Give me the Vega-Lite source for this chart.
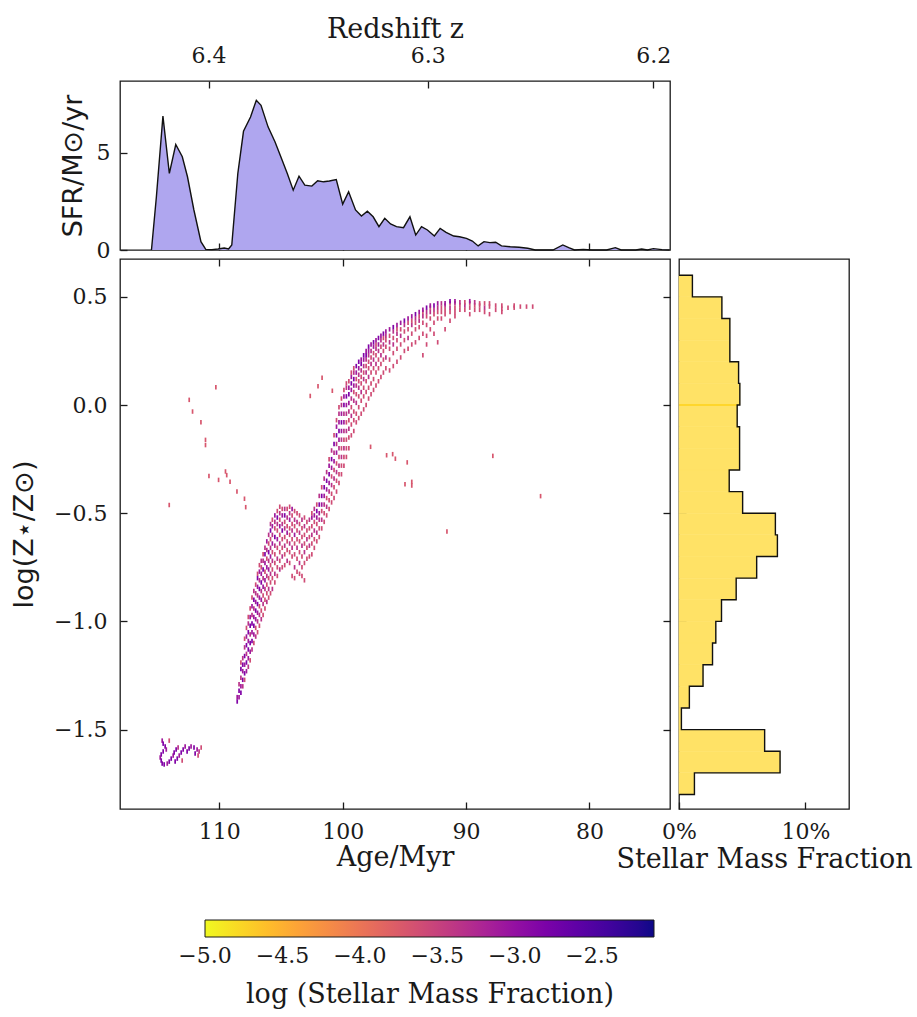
{
"$schema":"https://vega.github.io/schema/vega-lite/v6.json",
"background":"white",
"padding":{"left":9,"top":14,"right":5,"bottom":5},
"config":{
 "font":"DejaVu Serif",
 "view":{"stroke":"#1a1a1a","strokeWidth":1.3},
 "axis":{"grid":false,"domain":false,"tickSize":-7,"tickWidth":1.3,"tickColor":"#1a1a1a","labelFlush":false,"labelFont":"DejaVu Serif","labelFontSize":22,"labelColor":"#1a1a1a","titleFont":"DejaVu Serif","titleFontSize":27,"titleFontWeight":"normal","titleColor":"#1a1a1a"}
},
"columns":2,
"bounds":"flush",
"spacing":9,
"datasets":{
"sfr":[
{"a":115.5,"s":0},{"a":115.1,"s":2.74},{"a":114.57,"s":6.89},{"a":114.05,"s":3.94},{"a":113.53,"s":5.43},{"a":113.0,"s":4.8},{"a":112.58,"s":3.77},{"a":112.06,"s":2.06},{"a":111.49,"s":0.43},{"a":111.1,"s":0.03},{"a":110.6,"s":0.02},{"a":110.1,"s":0.05},{"a":109.6,"s":0.1},{"a":109.25,"s":0.05},{"a":108.99,"s":0.26},{"a":108.5,"s":3.94},{"a":108.04,"s":6.11},{"a":107.47,"s":6.85},{"a":107.0,"s":7.71},{"a":106.62,"s":7.45},{"a":106.05,"s":6.34},{"a":105.49,"s":5.57},{"a":104.96,"s":4.71},{"a":104.49,"s":3.94},{"a":104.01,"s":3.08},{"a":103.54,"s":3.8},{"a":103.07,"s":3.34},{"a":102.5,"s":3.29},{"a":102.03,"s":3.56},{"a":101.55,"s":3.51},{"a":101.08,"s":3.55},{"a":100.52,"s":3.63},{"a":100.0,"s":2.36},{"a":99.52,"s":3.0},{"a":98.96,"s":2.06},{"a":98.48,"s":1.75},{"a":98.0,"s":2.0},{"a":97.53,"s":1.71},{"a":97.06,"s":1.2},{"a":96.59,"s":1.63},{"a":96.12,"s":1.34},{"a":95.64,"s":1.2},{"a":95.07,"s":1.15},{"a":94.55,"s":1.71},{"a":94.08,"s":0.77},{"a":93.61,"s":1.2},{"a":93.13,"s":1.03},{"a":92.57,"s":0.72},{"a":92.1,"s":1.11},{"a":91.62,"s":0.91},{"a":91.0,"s":0.72},{"a":90.53,"s":0.68},{"a":89.97,"s":0.6},{"a":89.49,"s":0.46},{"a":89.02,"s":0.21},{"a":88.55,"s":0.43},{"a":88.07,"s":0.38},{"a":87.6,"s":0.4},{"a":87.13,"s":0.21},{"a":86.42,"s":0.17},{"a":85.7,"s":0.14},{"a":85.0,"s":0.09},{"a":84.39,"s":0},{"a":83.81,"s":0},{"a":82.96,"s":0},{"a":82.16,"s":0.26},{"a":81.68,"s":0.12},{"a":81.21,"s":0},{"a":80.5,"s":0.03},{"a":79.79,"s":0},{"a":78.61,"s":0},{"a":77.9,"s":0.12},{"a":77.43,"s":0},{"a":76.25,"s":0},{"a":75.77,"s":0.05},{"a":75.3,"s":0},{"a":74.82,"s":0.07},{"a":74.12,"s":0.02},{"a":73.5,"s":0}
],
"hist":[
{"lo":-1.8,"hi":-1.7,"f":0.0122},{"lo":-1.7,"hi":-1.6,"f":0.0799},{"lo":-1.6,"hi":-1.5,"f":0.0677},{"lo":-1.5,"hi":-1.4,"f":0.0019},{"lo":-1.4,"hi":-1.3,"f":0.0082},{"lo":-1.3,"hi":-1.2,"f":0.019},{"lo":-1.2,"hi":-1.1,"f":0.0265},{"lo":-1.1,"hi":-1.0,"f":0.0291},{"lo":-1.0,"hi":-0.9,"f":0.0336},{"lo":-0.9,"hi":-0.8,"f":0.0452},{"lo":-0.8,"hi":-0.7,"f":0.0614},{"lo":-0.7,"hi":-0.6,"f":0.0778},{"lo":-0.6,"hi":-0.5,"f":0.0762},{"lo":-0.5,"hi":-0.4,"f":0.0503},{"lo":-0.4,"hi":-0.3,"f":0.0397},{"lo":-0.3,"hi":-0.2,"f":0.0479},{"lo":-0.2,"hi":-0.1,"f":0.0479},{"lo":-0.1,"hi":0.0,"f":0.046},{"lo":0.0,"hi":0.1,"f":0.0481},{"lo":0.1,"hi":0.2,"f":0.0471},{"lo":0.2,"hi":0.3,"f":0.0402},{"lo":0.3,"hi":0.4,"f":0.0402},{"lo":0.4,"hi":0.5,"f":0.0339},{"lo":0.5,"hi":0.6,"f":0.0106}
],
"edge":[
{"k":0,"f":0,"e":-1.8},{"k":1,"f":0.0122,"e":-1.8},{"k":2,"f":0.0799,"e":-1.7},{"k":3,"f":0.0677,"e":-1.6},{"k":4,"f":0.0019,"e":-1.5},{"k":5,"f":0.0082,"e":-1.4},{"k":6,"f":0.019,"e":-1.3},{"k":7,"f":0.0265,"e":-1.2},{"k":8,"f":0.0291,"e":-1.1},{"k":9,"f":0.0336,"e":-1.0},{"k":10,"f":0.0452,"e":-0.9},{"k":11,"f":0.0614,"e":-0.8},{"k":12,"f":0.0778,"e":-0.7},{"k":13,"f":0.0762,"e":-0.6},{"k":14,"f":0.0503,"e":-0.5},{"k":15,"f":0.0397,"e":-0.4},{"k":16,"f":0.0479,"e":-0.3},{"k":17,"f":0.0479,"e":-0.2},{"k":18,"f":0.046,"e":-0.1},{"k":19,"f":0.0481,"e":0.0},{"k":20,"f":0.0471,"e":0.1},{"k":21,"f":0.0402,"e":0.2},{"k":22,"f":0.0402,"e":0.3},{"k":23,"f":0.0339,"e":0.4},{"k":24,"f":0.0106,"e":0.5},{"k":25,"f":0,"e":0.6}
],
"seam":[{"z":0,"f0":0,"f1":0.0462}],
"cells":[
{"a":108.55,"z":-1.37,"m":-2.85},{"a":108.55,"z":-1.35,"m":-3.1},
{"a":108.4,"z":-1.35,"m":-3.1},{"a":108.4,"z":-1.32,"m":-2.85},{"a":108.4,"z":-1.29,"m":-3.35},
{"a":108.25,"z":-1.33,"m":-2.85},{"a":108.25,"z":-1.30,"m":-3.1},{"a":108.25,"z":-1.26,"m":-3.35},{"a":108.25,"z":-1.22,"m":-2.85},{"a":108.25,"z":-1.19,"m":-3.6},
{"a":108.1,"z":-1.30,"m":-3.35},{"a":108.1,"z":-1.27,"m":-2.85},{"a":108.1,"z":-1.23,"m":-3.1},{"a":108.1,"z":-1.20,"m":-2.85},{"a":108.1,"z":-1.17,"m":-3.35},
{"a":107.95,"z":-1.27,"m":-3.6},{"a":107.95,"z":-1.24,"m":-2.85},{"a":107.95,"z":-1.20,"m":-3.1},{"a":107.95,"z":-1.16,"m":-2.85},{"a":107.95,"z":-1.12,"m":-3.35},{"a":107.95,"z":-1.08,"m":-3.6},
{"a":107.8,"z":-1.23,"m":-3.1},{"a":107.8,"z":-1.19,"m":-2.85},{"a":107.8,"z":-1.15,"m":-3.35},{"a":107.8,"z":-1.11,"m":-2.85},{"a":107.8,"z":-1.07,"m":-3.1},{"a":107.8,"z":-1.03,"m":-3.6},
{"a":107.65,"z":-1.21,"m":-3.35},{"a":107.65,"z":-1.17,"m":-3.1},{"a":107.65,"z":-1.13,"m":-2.85},{"a":107.65,"z":-1.09,"m":-3.1},{"a":107.65,"z":-1.05,"m":-2.85},{"a":107.65,"z":-1.01,"m":-3.35},{"a":107.65,"z":-0.98,"m":-3.6},
{"a":107.5,"z":-1.18,"m":-3.6},{"a":107.5,"z":-1.14,"m":-3.1},{"a":107.5,"z":-1.10,"m":-2.85},{"a":107.5,"z":-1.06,"m":-3.35},{"a":107.5,"z":-1.02,"m":-2.85},{"a":107.5,"z":-0.98,"m":-3.1},{"a":107.5,"z":-0.94,"m":-3.6},
{"a":107.35,"z":-1.13,"m":-3.35},{"a":107.35,"z":-1.09,"m":-2.85},{"a":107.35,"z":-1.05,"m":-3.1},{"a":107.35,"z":-1.01,"m":-2.85},{"a":107.35,"z":-0.97,"m":-3.35},{"a":107.35,"z":-0.93,"m":-3.1},{"a":107.35,"z":-0.89,"m":-3.6},
{"a":107.2,"z":-1.10,"m":-3.6},{"a":107.2,"z":-1.06,"m":-3.1},{"a":107.2,"z":-1.02,"m":-2.85},{"a":107.2,"z":-0.98,"m":-3.1},{"a":107.2,"z":-0.94,"m":-3.35},{"a":107.2,"z":-0.90,"m":-2.85},{"a":107.2,"z":-0.86,"m":-3.35},
{"a":107.05,"z":-1.07,"m":-3.35},{"a":107.05,"z":-1.03,"m":-3.6},{"a":107.05,"z":-0.99,"m":-3.1},{"a":107.05,"z":-0.95,"m":-2.85},{"a":107.05,"z":-0.91,"m":-3.1},{"a":107.05,"z":-0.87,"m":-3.35},{"a":107.05,"z":-0.83,"m":-3.6},
{"a":106.9,"z":-1.05,"m":-3.6},{"a":106.9,"z":-1.00,"m":-3.35},{"a":106.9,"z":-0.96,"m":-3.1},{"a":106.9,"z":-0.92,"m":-2.85},{"a":106.9,"z":-0.88,"m":-3.35},{"a":106.9,"z":-0.84,"m":-3.1},{"a":106.9,"z":-0.80,"m":-2.85},{"a":106.9,"z":-0.78,"m":-3.6},
{"a":106.75,"z":-1.02,"m":-3.6},{"a":106.75,"z":-0.97,"m":-3.35},{"a":106.75,"z":-0.93,"m":-3.6},{"a":106.75,"z":-0.89,"m":-3.1},{"a":106.75,"z":-0.85,"m":-2.85},{"a":106.75,"z":-0.81,"m":-3.35},{"a":106.75,"z":-0.77,"m":-3.1},{"a":106.75,"z":-0.74,"m":-3.6},
{"a":106.6,"z":-0.99,"m":-3.35},{"a":106.6,"z":-0.95,"m":-3.6},{"a":106.6,"z":-0.90,"m":-3.1},{"a":106.6,"z":-0.86,"m":-3.35},{"a":106.6,"z":-0.82,"m":-2.85},{"a":106.6,"z":-0.78,"m":-3.1},{"a":106.6,"z":-0.75,"m":-3.6},{"a":106.6,"z":-0.72,"m":-3.35},
{"a":106.45,"z":-0.97,"m":-3.6},{"a":106.45,"z":-0.92,"m":-3.35},{"a":106.45,"z":-0.88,"m":-3.6},{"a":106.45,"z":-0.84,"m":-3.1},{"a":106.45,"z":-0.80,"m":-3.35},{"a":106.45,"z":-0.76,"m":-2.85},{"a":106.45,"z":-0.72,"m":-3.35},{"a":106.45,"z":-0.69,"m":-3.6},
{"a":106.3,"z":-0.94,"m":-3.6},{"a":106.3,"z":-0.90,"m":-3.6},{"a":106.3,"z":-0.85,"m":-3.35},{"a":106.3,"z":-0.81,"m":-3.1},{"a":106.3,"z":-0.77,"m":-3.6},{"a":106.3,"z":-0.73,"m":-3.1},{"a":106.3,"z":-0.69,"m":-2.85},{"a":106.3,"z":-0.66,"m":-3.35},
{"a":106.15,"z":-0.91,"m":-3.35},{"a":106.15,"z":-0.87,"m":-3.6},{"a":106.15,"z":-0.83,"m":-3.6},{"a":106.15,"z":-0.79,"m":-3.35},{"a":106.15,"z":-0.75,"m":-3.1},{"a":106.15,"z":-0.71,"m":-3.6},{"a":106.15,"z":-0.67,"m":-3.35},{"a":106.15,"z":-0.63,"m":-3.1},
{"a":106.0,"z":-0.89,"m":-3.6},{"a":106.0,"z":-0.85,"m":-3.35},{"a":106.0,"z":-0.80,"m":-3.6},{"a":106.0,"z":-0.76,"m":-3.1},{"a":106.0,"z":-0.72,"m":-3.35},{"a":106.0,"z":-0.68,"m":-2.85},{"a":106.0,"z":-0.64,"m":-3.6},{"a":106.0,"z":-0.60,"m":-3.35},
{"a":105.85,"z":-0.87,"m":-3.6},{"a":105.85,"z":-0.82,"m":-3.6},{"a":105.85,"z":-0.78,"m":-3.35},{"a":105.85,"z":-0.74,"m":-3.6},{"a":105.85,"z":-0.70,"m":-3.1},{"a":105.85,"z":-0.66,"m":-3.35},{"a":105.85,"z":-0.62,"m":-3.6},{"a":105.85,"z":-0.58,"m":-2.85},{"a":105.85,"z":-0.55,"m":-3.35},
{"a":105.7,"z":-0.85,"m":-3.35},{"a":105.7,"z":-0.80,"m":-3.6},{"a":105.7,"z":-0.76,"m":-3.6},{"a":105.7,"z":-0.72,"m":-3.35},{"a":105.7,"z":-0.68,"m":-3.6},{"a":105.7,"z":-0.64,"m":-3.1},{"a":105.7,"z":-0.60,"m":-3.35},{"a":105.7,"z":-0.56,"m":-3.1},{"a":105.7,"z":-0.53,"m":-3.6},
{"a":105.5,"z":-0.82,"m":-3.6},{"a":105.5,"z":-0.78,"m":-3.35},{"a":105.5,"z":-0.73,"m":-3.6},{"a":105.5,"z":-0.69,"m":-3.6},{"a":105.5,"z":-0.65,"m":-3.35},{"a":105.5,"z":-0.61,"m":-2.85},{"a":105.5,"z":-0.57,"m":-3.6},{"a":105.5,"z":-0.54,"m":-3.35},{"a":105.5,"z":-0.51,"m":-3.1},
{"a":105.3,"z":-0.79,"m":-3.6},{"a":105.3,"z":-0.75,"m":-3.6},{"a":105.3,"z":-0.71,"m":-3.35},{"a":105.3,"z":-0.66,"m":-3.6},{"a":105.3,"z":-0.62,"m":-3.1},{"a":105.3,"z":-0.58,"m":-3.6},{"a":105.3,"z":-0.55,"m":-3.35},{"a":105.3,"z":-0.52,"m":-2.85},{"a":105.3,"z":-0.49,"m":-3.6},
{"a":105.1,"z":-0.76,"m":-3.35},{"a":105.1,"z":-0.72,"m":-3.6},{"a":105.1,"z":-0.68,"m":-3.6},{"a":105.1,"z":-0.64,"m":-3.35},{"a":105.1,"z":-0.60,"m":-3.6},{"a":105.1,"z":-0.56,"m":-3.1},{"a":105.1,"z":-0.53,"m":-3.6},{"a":105.1,"z":-0.50,"m":-3.35},{"a":105.1,"z":-0.47,"m":-3.6},
{"a":104.9,"z":-0.75,"m":-3.6},{"a":104.9,"z":-0.70,"m":-3.35},{"a":104.9,"z":-0.66,"m":-3.6},{"a":104.9,"z":-0.62,"m":-3.6},{"a":104.9,"z":-0.58,"m":-2.85},{"a":104.9,"z":-0.55,"m":-3.35},{"a":104.9,"z":-0.51,"m":-3.1},{"a":104.9,"z":-0.48,"m":-3.6},
{"a":104.7,"z":-0.74,"m":-3.6},{"a":104.7,"z":-0.69,"m":-3.6},{"a":104.7,"z":-0.65,"m":-3.35},{"a":104.7,"z":-0.61,"m":-3.6},{"a":104.7,"z":-0.57,"m":-3.35},{"a":104.7,"z":-0.54,"m":-3.6},{"a":104.7,"z":-0.51,"m":-2.85},{"a":104.7,"z":-0.48,"m":-3.35},
{"a":104.5,"z":-0.72,"m":-3.35},{"a":104.5,"z":-0.67,"m":-3.6},{"a":104.5,"z":-0.63,"m":-3.6},{"a":104.5,"z":-0.59,"m":-3.1},{"a":104.5,"z":-0.56,"m":-3.6},{"a":104.5,"z":-0.52,"m":-3.35},{"a":104.5,"z":-0.48,"m":-3.6},
{"a":104.3,"z":-0.73,"m":-3.6},{"a":104.3,"z":-0.68,"m":-3.6},{"a":104.3,"z":-0.64,"m":-3.35},{"a":104.3,"z":-0.60,"m":-3.6},{"a":104.3,"z":-0.57,"m":-3.6},{"a":104.3,"z":-0.53,"m":-3.1},{"a":104.3,"z":-0.50,"m":-3.35},{"a":104.3,"z":-0.47,"m":-3.6},
{"a":104.1,"z":-0.79,"m":-3.6},{"a":104.1,"z":-0.70,"m":-3.6},{"a":104.1,"z":-0.66,"m":-3.35},{"a":104.1,"z":-0.62,"m":-3.6},{"a":104.1,"z":-0.58,"m":-3.35},{"a":104.1,"z":-0.55,"m":-3.6},{"a":104.1,"z":-0.51,"m":-3.6},{"a":104.1,"z":-0.48,"m":-3.1},
{"a":103.9,"z":-0.80,"m":-3.6},{"a":103.9,"z":-0.75,"m":-3.35},{"a":103.9,"z":-0.69,"m":-3.6},{"a":103.9,"z":-0.64,"m":-3.6},{"a":103.9,"z":-0.60,"m":-3.1},{"a":103.9,"z":-0.56,"m":-3.6},{"a":103.9,"z":-0.53,"m":-3.35},{"a":103.9,"z":-0.49,"m":-3.6},
{"a":103.7,"z":-0.77,"m":-3.6},{"a":103.7,"z":-0.71,"m":-3.6},{"a":103.7,"z":-0.66,"m":-3.35},{"a":103.7,"z":-0.62,"m":-3.6},{"a":103.7,"z":-0.58,"m":-3.6},{"a":103.7,"z":-0.54,"m":-3.35},{"a":103.7,"z":-0.50,"m":-3.6},
{"a":103.5,"z":-0.78,"m":-3.6},{"a":103.5,"z":-0.73,"m":-3.35},{"a":103.5,"z":-0.68,"m":-3.6},{"a":103.5,"z":-0.63,"m":-3.6},{"a":103.5,"z":-0.59,"m":-3.35},{"a":103.5,"z":-0.55,"m":-3.6},{"a":103.5,"z":-0.51,"m":-3.6},
{"a":103.3,"z":-0.79,"m":-3.6},{"a":103.3,"z":-0.75,"m":-3.6},{"a":103.3,"z":-0.70,"m":-3.6},{"a":103.3,"z":-0.65,"m":-3.35},{"a":103.3,"z":-0.61,"m":-3.6},{"a":103.3,"z":-0.57,"m":-3.6},{"a":103.3,"z":-0.53,"m":-3.35},
{"a":103.1,"z":-0.81,"m":-3.6},{"a":103.1,"z":-0.73,"m":-3.6},{"a":103.1,"z":-0.68,"m":-3.35},{"a":103.1,"z":-0.64,"m":-3.6},{"a":103.1,"z":-0.60,"m":-3.6},{"a":103.1,"z":-0.56,"m":-3.35},{"a":103.1,"z":-0.52,"m":-3.6},
{"a":102.9,"z":-0.71,"m":-3.6},{"a":102.9,"z":-0.66,"m":-3.6},{"a":102.9,"z":-0.62,"m":-3.35},{"a":102.9,"z":-0.58,"m":-3.6},{"a":102.9,"z":-0.54,"m":-3.6},
{"a":102.7,"z":-0.70,"m":-3.6},{"a":102.7,"z":-0.65,"m":-3.35},{"a":102.7,"z":-0.61,"m":-3.6},{"a":102.7,"z":-0.57,"m":-3.6},{"a":102.7,"z":-0.53,"m":-3.35},
{"a":102.5,"z":-0.69,"m":-3.6},{"a":102.5,"z":-0.64,"m":-3.6},{"a":102.5,"z":-0.60,"m":-3.35},{"a":102.5,"z":-0.56,"m":-3.6},{"a":102.5,"z":-0.52,"m":-3.1},{"a":102.5,"z":-0.50,"m":-3.6},
{"a":102.3,"z":-0.66,"m":-3.6},{"a":102.3,"z":-0.62,"m":-3.6},{"a":102.3,"z":-0.58,"m":-3.35},{"a":102.3,"z":-0.54,"m":-3.6},{"a":102.3,"z":-0.51,"m":-3.1},{"a":102.3,"z":-0.48,"m":-3.35},
{"a":102.1,"z":-0.63,"m":-3.6},{"a":102.1,"z":-0.59,"m":-3.35},{"a":102.1,"z":-0.55,"m":-3.6},{"a":102.1,"z":-0.52,"m":-3.1},{"a":102.1,"z":-0.49,"m":-2.85},{"a":102.1,"z":-0.46,"m":-3.6},
{"a":101.9,"z":-0.61,"m":-3.6},{"a":101.9,"z":-0.57,"m":-3.6},{"a":101.9,"z":-0.53,"m":-3.35},{"a":101.9,"z":-0.50,"m":-3.1},{"a":101.9,"z":-0.46,"m":-2.85},{"a":101.9,"z":-0.42,"m":-3.35},
{"a":101.7,"z":-0.57,"m":-3.6},{"a":101.7,"z":-0.53,"m":-3.35},{"a":101.7,"z":-0.49,"m":-3.6},{"a":101.7,"z":-0.46,"m":-3.1},{"a":101.7,"z":-0.42,"m":-2.85},{"a":101.7,"z":-0.38,"m":-3.6},
{"a":101.5,"z":-0.54,"m":-3.6},{"a":101.5,"z":-0.50,"m":-3.6},{"a":101.5,"z":-0.46,"m":-3.35},{"a":101.5,"z":-0.42,"m":-3.1},{"a":101.5,"z":-0.38,"m":-2.85},{"a":101.5,"z":-0.34,"m":-3.35},
{"a":101.3,"z":-0.51,"m":-3.6},{"a":101.3,"z":-0.47,"m":-3.35},{"a":101.3,"z":-0.43,"m":-3.6},{"a":101.3,"z":-0.39,"m":-3.1},{"a":101.3,"z":-0.35,"m":-2.85},{"a":101.3,"z":-0.31,"m":-3.35},
{"a":101.1,"z":-0.48,"m":-3.6},{"a":101.1,"z":-0.44,"m":-3.6},{"a":101.1,"z":-0.40,"m":-3.35},{"a":101.1,"z":-0.36,"m":-3.1},{"a":101.1,"z":-0.32,"m":-2.85},{"a":101.1,"z":-0.28,"m":-3.1},{"a":101.1,"z":-0.25,"m":-3.6},
{"a":100.9,"z":-0.45,"m":-3.6},{"a":100.9,"z":-0.41,"m":-3.6},{"a":100.9,"z":-0.37,"m":-3.35},{"a":100.9,"z":-0.33,"m":-3.6},{"a":100.9,"z":-0.29,"m":-3.1},{"a":100.9,"z":-0.25,"m":-2.85},{"a":100.9,"z":-0.21,"m":-3.35},
{"a":100.7,"z":-0.43,"m":-3.6},{"a":100.7,"z":-0.38,"m":-3.6},{"a":100.7,"z":-0.34,"m":-3.35},{"a":100.7,"z":-0.30,"m":-3.6},{"a":100.7,"z":-0.26,"m":-3.1},{"a":100.7,"z":-0.22,"m":-3.35},{"a":100.7,"z":-0.18,"m":-2.85},{"a":100.7,"z":-0.14,"m":-3.6},
{"a":100.5,"z":-0.40,"m":-3.6},{"a":100.5,"z":-0.35,"m":-3.6},{"a":100.5,"z":-0.31,"m":-3.35},{"a":100.5,"z":-0.27,"m":-3.6},{"a":100.5,"z":-0.22,"m":-3.1},{"a":100.5,"z":-0.18,"m":-3.35},{"a":100.5,"z":-0.14,"m":-2.85},{"a":100.5,"z":-0.10,"m":-3.1},{"a":100.5,"z":-0.07,"m":-3.6},
{"a":100.3,"z":-0.36,"m":-3.6},{"a":100.3,"z":-0.32,"m":-3.6},{"a":100.3,"z":-0.28,"m":-3.35},{"a":100.3,"z":-0.24,"m":-3.6},{"a":100.3,"z":-0.20,"m":-3.35},{"a":100.3,"z":-0.16,"m":-3.1},{"a":100.3,"z":-0.12,"m":-2.85},{"a":100.3,"z":-0.08,"m":-3.1},{"a":100.3,"z":-0.04,"m":-3.35},{"a":100.3,"z":-0.01,"m":-3.6},
{"a":100.1,"z":-0.32,"m":-3.6},{"a":100.1,"z":-0.28,"m":-3.6},{"a":100.1,"z":-0.24,"m":-3.35},{"a":100.1,"z":-0.20,"m":-3.6},{"a":100.1,"z":-0.16,"m":-3.35},{"a":100.1,"z":-0.12,"m":-3.1},{"a":100.1,"z":-0.08,"m":-2.85},{"a":100.1,"z":-0.04,"m":-3.1},{"a":100.1,"z":0.0,"m":-3.35},{"a":100.1,"z":0.03,"m":-3.6},
{"a":99.9,"z":-0.28,"m":-3.6},{"a":99.9,"z":-0.24,"m":-3.6},{"a":99.9,"z":-0.20,"m":-3.35},{"a":99.9,"z":-0.16,"m":-3.6},{"a":99.9,"z":-0.12,"m":-3.35},{"a":99.9,"z":-0.08,"m":-3.1},{"a":99.9,"z":-0.04,"m":-3.35},{"a":99.9,"z":0.0,"m":-2.85},{"a":99.9,"z":0.04,"m":-3.1},{"a":99.9,"z":0.07,"m":-3.6},
{"a":99.7,"z":-0.24,"m":-3.6},{"a":99.7,"z":-0.20,"m":-3.6},{"a":99.7,"z":-0.16,"m":-3.6},{"a":99.7,"z":-0.12,"m":-3.35},{"a":99.7,"z":-0.08,"m":-3.6},{"a":99.7,"z":-0.04,"m":-3.35},{"a":99.7,"z":0.0,"m":-3.1},{"a":99.7,"z":0.04,"m":-2.85},{"a":99.7,"z":0.08,"m":-3.35},{"a":99.7,"z":0.10,"m":-3.6},
{"a":99.5,"z":-0.20,"m":-3.6},{"a":99.5,"z":-0.15,"m":-3.6},{"a":99.5,"z":-0.11,"m":-3.35},{"a":99.5,"z":-0.07,"m":-3.6},{"a":99.5,"z":-0.03,"m":-3.35},{"a":99.5,"z":0.01,"m":-3.1},{"a":99.5,"z":0.05,"m":-2.85},{"a":99.5,"z":0.08,"m":-3.1},{"a":99.5,"z":0.11,"m":-3.6},
{"a":99.3,"z":-0.14,"m":-3.6},{"a":99.3,"z":-0.09,"m":-3.6},{"a":99.3,"z":-0.05,"m":-3.35},{"a":99.3,"z":-0.01,"m":-3.6},{"a":99.3,"z":0.03,"m":-3.35},{"a":99.3,"z":0.07,"m":-3.1},{"a":99.3,"z":0.10,"m":-2.85},{"a":99.3,"z":0.13,"m":-3.1},{"a":99.3,"z":0.15,"m":-3.6},
{"a":99.1,"z":-0.12,"m":-3.6},{"a":99.1,"z":-0.07,"m":-3.6},{"a":99.1,"z":-0.03,"m":-3.6},{"a":99.1,"z":0.02,"m":-3.35},{"a":99.1,"z":0.06,"m":-3.6},{"a":99.1,"z":0.09,"m":-3.1},{"a":99.1,"z":0.12,"m":-2.85},{"a":99.1,"z":0.15,"m":-3.35},{"a":99.1,"z":0.17,"m":-3.6},
{"a":98.9,"z":-0.08,"m":-3.6},{"a":98.9,"z":-0.04,"m":-3.6},{"a":98.9,"z":0.01,"m":-3.35},{"a":98.9,"z":0.05,"m":-3.6},{"a":98.9,"z":0.09,"m":-3.35},{"a":98.9,"z":0.12,"m":-3.6},{"a":98.9,"z":0.15,"m":-3.1},{"a":98.9,"z":0.18,"m":-2.85},
{"a":98.7,"z":-0.06,"m":-3.6},{"a":98.7,"z":-0.01,"m":-3.6},{"a":98.7,"z":0.04,"m":-3.6},{"a":98.7,"z":0.08,"m":-3.35},{"a":98.7,"z":0.11,"m":-3.6},{"a":98.7,"z":0.14,"m":-3.35},{"a":98.7,"z":0.17,"m":-3.1},{"a":98.7,"z":0.20,"m":-2.85},
{"a":98.5,"z":-0.04,"m":-3.6},{"a":98.5,"z":0.02,"m":-3.6},{"a":98.5,"z":0.06,"m":-3.35},{"a":98.5,"z":0.10,"m":-3.6},{"a":98.5,"z":0.13,"m":-3.6},{"a":98.5,"z":0.16,"m":-3.35},{"a":98.5,"z":0.19,"m":-2.85},{"a":98.5,"z":0.21,"m":-3.1},
{"a":98.3,"z":-0.02,"m":-3.6},{"a":98.3,"z":0.04,"m":-3.6},{"a":98.3,"z":0.08,"m":-3.6},{"a":98.3,"z":0.12,"m":-3.35},{"a":98.3,"z":0.15,"m":-3.6},{"a":98.3,"z":0.18,"m":-3.35},{"a":98.3,"z":0.21,"m":-3.1},{"a":98.3,"z":0.23,"m":-2.85},
{"a":98.1,"z":0.0,"m":-3.6},{"a":98.1,"z":0.06,"m":-3.6},{"a":98.1,"z":0.11,"m":-3.6},{"a":98.1,"z":0.15,"m":-3.35},{"a":98.1,"z":0.18,"m":-3.6},{"a":98.1,"z":0.21,"m":-3.35},{"a":98.1,"z":0.23,"m":-2.85},{"a":98.1,"z":0.25,"m":-3.1},
{"a":97.9,"z":0.03,"m":-3.6},{"a":97.9,"z":0.08,"m":-3.6},{"a":97.9,"z":0.13,"m":-3.35},{"a":97.9,"z":0.17,"m":-3.6},{"a":97.9,"z":0.20,"m":-3.6},{"a":97.9,"z":0.23,"m":-3.35},{"a":97.9,"z":0.25,"m":-3.1},{"a":97.9,"z":0.27,"m":-2.85},
{"a":97.7,"z":0.05,"m":-3.6},{"a":97.7,"z":0.10,"m":-3.6},{"a":97.7,"z":0.15,"m":-3.6},{"a":97.7,"z":0.19,"m":-3.35},{"a":97.7,"z":0.22,"m":-3.6},{"a":97.7,"z":0.25,"m":-3.35},{"a":97.7,"z":0.28,"m":-3.1},
{"a":97.5,"z":0.07,"m":-3.6},{"a":97.5,"z":0.12,"m":-3.6},{"a":97.5,"z":0.17,"m":-3.6},{"a":97.5,"z":0.21,"m":-3.35},{"a":97.5,"z":0.24,"m":-3.6},{"a":97.5,"z":0.27,"m":-3.1},{"a":97.5,"z":0.29,"m":-2.85},
{"a":97.3,"z":0.09,"m":-3.6},{"a":97.3,"z":0.15,"m":-3.6},{"a":97.3,"z":0.19,"m":-3.35},{"a":97.3,"z":0.23,"m":-3.6},{"a":97.3,"z":0.26,"m":-3.35},{"a":97.3,"z":0.28,"m":-3.6},{"a":97.3,"z":0.30,"m":-3.1},
{"a":97.1,"z":0.11,"m":-3.6},{"a":97.1,"z":0.17,"m":-3.6},{"a":97.1,"z":0.21,"m":-3.6},{"a":97.1,"z":0.25,"m":-3.35},{"a":97.1,"z":0.28,"m":-3.1},{"a":97.1,"z":0.31,"m":-2.85},
{"a":96.9,"z":0.13,"m":-3.6},{"a":96.9,"z":0.19,"m":-3.6},{"a":96.9,"z":0.23,"m":-3.35},{"a":96.9,"z":0.27,"m":-3.6},{"a":96.9,"z":0.30,"m":-3.35},{"a":96.9,"z":0.32,"m":-3.1},
{"a":96.7,"z":0.15,"m":-3.6},{"a":96.7,"z":0.21,"m":-3.6},{"a":96.7,"z":0.25,"m":-3.6},{"a":96.7,"z":0.28,"m":-3.35},{"a":96.7,"z":0.31,"m":-3.6},{"a":96.7,"z":0.33,"m":-2.85},
{"a":96.5,"z":0.17,"m":-3.6},{"a":96.5,"z":0.22,"m":-3.35},{"a":96.5,"z":0.27,"m":-3.6},{"a":96.5,"z":0.30,"m":-3.6},{"a":96.5,"z":0.32,"m":-3.35},{"a":96.5,"z":0.34,"m":-3.1},
{"a":96.2,"z":0.16,"m":-3.6},{"a":96.2,"z":0.21,"m":-3.6},{"a":96.2,"z":0.26,"m":-3.6},{"a":96.2,"z":0.29,"m":-3.35},{"a":96.2,"z":0.32,"m":-3.6},{"a":96.2,"z":0.35,"m":-3.1},
{"a":95.9,"z":0.18,"m":-3.6},{"a":95.9,"z":0.24,"m":-3.6},{"a":95.9,"z":0.28,"m":-3.35},{"a":95.9,"z":0.31,"m":-3.6},{"a":95.9,"z":0.34,"m":-3.35},{"a":95.9,"z":0.36,"m":-2.85},
{"a":95.6,"z":0.20,"m":-3.6},{"a":95.6,"z":0.26,"m":-3.6},{"a":95.6,"z":0.30,"m":-3.6},{"a":95.6,"z":0.33,"m":-3.35},{"a":95.6,"z":0.35,"m":-3.6},{"a":95.6,"z":0.37,"m":-3.1},
{"a":95.3,"z":0.22,"m":-3.6},{"a":95.3,"z":0.28,"m":-3.6},{"a":95.3,"z":0.32,"m":-3.35},{"a":95.3,"z":0.35,"m":-3.6},{"a":95.3,"z":0.38,"m":-3.1},
{"a":95.0,"z":0.25,"m":-3.6},{"a":95.0,"z":0.30,"m":-3.6},{"a":95.0,"z":0.34,"m":-3.6},{"a":95.0,"z":0.37,"m":-3.35},{"a":95.0,"z":0.39,"m":-2.85},
{"a":94.7,"z":0.26,"m":-3.6},{"a":94.7,"z":0.31,"m":-3.35},{"a":94.7,"z":0.35,"m":-3.6},{"a":94.7,"z":0.38,"m":-3.6},{"a":94.7,"z":0.40,"m":-3.1},
{"a":94.4,"z":0.28,"m":-3.6},{"a":94.4,"z":0.33,"m":-3.6},{"a":94.4,"z":0.37,"m":-3.35},{"a":94.4,"z":0.39,"m":-3.6},{"a":94.4,"z":0.41,"m":-3.1},
{"a":94.1,"z":0.29,"m":-3.6},{"a":94.1,"z":0.35,"m":-3.6},{"a":94.1,"z":0.38,"m":-3.6},{"a":94.1,"z":0.40,"m":-3.35},{"a":94.1,"z":0.42,"m":-2.85},
{"a":93.8,"z":0.31,"m":-3.6},{"a":93.8,"z":0.36,"m":-3.6},{"a":93.8,"z":0.39,"m":-3.35},{"a":93.8,"z":0.41,"m":-3.6},{"a":93.8,"z":0.43,"m":-3.1},
{"a":93.5,"z":0.23,"m":-3.6},{"a":93.5,"z":0.33,"m":-3.6},{"a":93.5,"z":0.38,"m":-3.6},{"a":93.5,"z":0.41,"m":-3.35},{"a":93.5,"z":0.43,"m":-3.6},{"a":93.5,"z":0.44,"m":-3.1},
{"a":93.2,"z":0.28,"m":-3.6},{"a":93.2,"z":0.32,"m":-3.6},{"a":93.2,"z":0.37,"m":-3.6},{"a":93.2,"z":0.41,"m":-3.6},{"a":93.2,"z":0.43,"m":-3.35},{"a":93.2,"z":0.45,"m":-2.85},
{"a":92.9,"z":0.35,"m":-3.6},{"a":92.9,"z":0.40,"m":-3.6},{"a":92.9,"z":0.43,"m":-3.35},{"a":92.9,"z":0.45,"m":-3.6},{"a":92.9,"z":0.46,"m":-3.1},
{"a":92.6,"z":0.33,"m":-3.6},{"a":92.6,"z":0.38,"m":-3.6},{"a":92.6,"z":0.42,"m":-3.6},{"a":92.6,"z":0.44,"m":-3.35},{"a":92.6,"z":0.46,"m":-2.85},
{"a":92.3,"z":0.29,"m":-3.6},{"a":92.3,"z":0.40,"m":-3.6},{"a":92.3,"z":0.43,"m":-3.6},{"a":92.3,"z":0.45,"m":-3.35},{"a":92.3,"z":0.47,"m":-3.1},
{"a":92.0,"z":0.40,"m":-3.6},{"a":92.0,"z":0.43,"m":-3.6},{"a":92.0,"z":0.45,"m":-3.6},{"a":92.0,"z":0.47,"m":-3.35},
{"a":91.7,"z":0.35,"m":-3.6},{"a":91.7,"z":0.42,"m":-3.6},{"a":91.7,"z":0.44,"m":-3.6},{"a":91.7,"z":0.46,"m":-3.35},{"a":91.7,"z":0.47,"m":-3.1},
{"a":91.3,"z":0.39,"m":-3.6},{"a":91.3,"z":0.43,"m":-3.6},{"a":91.3,"z":0.45,"m":-3.35},{"a":91.3,"z":0.47,"m":-3.6},{"a":91.3,"z":0.48,"m":-2.85},
{"a":90.9,"z":0.41,"m":-3.6},{"a":90.9,"z":0.43,"m":-3.6},{"a":90.9,"z":0.45,"m":-3.6},{"a":90.9,"z":0.47,"m":-3.35},{"a":90.9,"z":0.48,"m":-3.1},
{"a":90.5,"z":0.44,"m":-3.6},{"a":90.5,"z":0.46,"m":-3.6},{"a":90.5,"z":0.475,"m":-3.35},
{"a":90.1,"z":0.44,"m":-3.6},{"a":90.1,"z":0.46,"m":-3.35},{"a":90.1,"z":0.475,"m":-3.6},
{"a":89.7,"z":0.42,"m":-3.6},{"a":89.7,"z":0.45,"m":-3.6},{"a":89.7,"z":0.47,"m":-3.6},{"a":89.7,"z":0.48,"m":-3.1},
{"a":89.3,"z":0.44,"m":-3.6},{"a":89.3,"z":0.46,"m":-3.6},{"a":89.3,"z":0.475,"m":-3.35},
{"a":88.9,"z":0.44,"m":-3.6},{"a":88.9,"z":0.46,"m":-3.6},{"a":88.9,"z":0.47,"m":-3.6},
{"a":88.5,"z":0.43,"m":-3.6},{"a":88.5,"z":0.45,"m":-3.35},{"a":88.5,"z":0.47,"m":-3.6},
{"a":88.1,"z":0.42,"m":-3.6},{"a":88.1,"z":0.455,"m":-3.6},{"a":88.1,"z":0.47,"m":-3.6},
{"a":87.6,"z":0.44,"m":-3.6},{"a":87.6,"z":0.46,"m":-3.6},
{"a":87.1,"z":0.43,"m":-3.6},{"a":87.1,"z":0.445,"m":-3.6},{"a":87.1,"z":0.46,"m":-3.6},
{"a":86.6,"z":0.45,"m":-3.6},
{"a":86.1,"z":0.45,"m":-3.6},{"a":86.1,"z":0.46,"m":-3.6},
{"a":85.6,"z":0.455,"m":-3.6},{"a":85.1,"z":0.455,"m":-3.6},{"a":84.6,"z":0.455,"m":-3.6},
{"a":114.63,"z":-1.551,"m":-3.1},{"a":114.55,"z":-1.565,"m":-2.85},{"a":114.39,"z":-1.578,"m":-2.85},{"a":114.3,"z":-1.592,"m":-3.1},{"a":114.55,"z":-1.601,"m":-2.85},{"a":114.71,"z":-1.615,"m":-2.85},{"a":114.79,"z":-1.629,"m":-3.1},{"a":114.71,"z":-1.643,"m":-2.85},{"a":114.63,"z":-1.657,"m":-2.85},{"a":114.47,"z":-1.661,"m":-2.85},{"a":114.22,"z":-1.657,"m":-3.1},{"a":114.06,"z":-1.648,"m":-2.85},{"a":113.9,"z":-1.634,"m":-2.85},{"a":113.74,"z":-1.62,"m":-3.1},{"a":113.66,"z":-1.606,"m":-2.85},{"a":113.5,"z":-1.592,"m":-2.85},{"a":113.34,"z":-1.583,"m":-3.35},{"a":113.58,"z":-1.648,"m":-2.85},{"a":113.41,"z":-1.634,"m":-2.85},{"a":113.25,"z":-1.62,"m":-3.1},{"a":113.09,"z":-1.606,"m":-2.85},{"a":112.93,"z":-1.592,"m":-2.85},{"a":112.77,"z":-1.578,"m":-3.1},{"a":113.01,"z":-1.643,"m":-3.6},{"a":112.61,"z":-1.601,"m":-2.85},{"a":112.45,"z":-1.587,"m":-2.85},{"a":112.29,"z":-1.578,"m":-3.1},{"a":112.05,"z":-1.583,"m":-2.85},{"a":111.8,"z":-1.592,"m":-3.1},{"a":111.64,"z":-1.601,"m":-3.35},{"a":111.96,"z":-1.61,"m":-2.85},{"a":111.72,"z":-1.62,"m":-3.6},{"a":111.47,"z":-1.583,"m":-3.6},{"a":114.06,"z":-1.551,"m":-3.6},
{"a":114.06,"z":-0.462,"m":-3.7},{"a":112.44,"z":0.024,"m":-3.7},{"a":112.17,"z":-0.03,"m":-3.7},{"a":111.49,"z":-0.08,"m":-3.7},{"a":111.12,"z":-0.161,"m":-3.7},{"a":111.12,"z":-0.185,"m":-3.7},{"a":110.84,"z":-0.328,"m":-3.7},{"a":110.28,"z":0.082,"m":-3.7},{"a":110.06,"z":-0.346,"m":-3.7},{"a":109.5,"z":-0.307,"m":-3.7},{"a":109.4,"z":-0.324,"m":-3.7},{"a":109.13,"z":-0.354,"m":-3.7},{"a":108.57,"z":-0.4,"m":-3.7},{"a":107.96,"z":-0.433,"m":-3.7},{"a":107.86,"z":-0.472,"m":-3.7},{"a":101.67,"z":0.126,"m":-3.7},{"a":102.0,"z":0.087,"m":-3.7},{"a":102.63,"z":0.042,"m":-3.7},{"a":100.84,"z":0.066,"m":-3.7},{"a":97.74,"z":-0.193,"m":-3.7},{"a":96.44,"z":-0.232,"m":-3.7},{"a":95.95,"z":-0.227,"m":-3.7},{"a":95.73,"z":-0.248,"m":-3.7},{"a":94.77,"z":-0.265,"m":-3.7},{"a":94.95,"z":-0.366,"m":-3.7},{"a":94.4,"z":-0.355,"m":-3.7},{"a":94.4,"z":-0.372,"m":-3.7},{"a":87.83,"z":-0.235,"m":-3.7},{"a":83.96,"z":-0.421,"m":-3.7},{"a":91.55,"z":-0.585,"m":-3.7}
]
},
"concat":[
{
 "width":550,"height":169,
 "data":{"name":"sfr"},
 "layer":[
  {"mark":{"type":"area","color":"#afa6ef","opacity":1,"line":{"color":"#111111","strokeWidth":1.4}},
   "encoding":{
    "x":{"field":"a","type":"quantitative","scale":{"domain":[73.47,118.05],"reverse":true,"nice":false,"zero":false},"axis":{"orient":"bottom","values":[110,100,90,80],"labels":false,"title":null}},
    "y":{"field":"s","type":"quantitative","scale":{"domain":[0,8.7],"nice":false},"axis":{"values":[0,5],"labelPadding":17,"title":"SFR/M⊙/yr","titleFont":"DejaVu Sans","titlePadding":9}}
   }},
  {"mark":{"type":"point","opacity":0},
   "encoding":{
    "x":{"field":"a","type":"quantitative","axis":{"orient":"top","values":[110.87,93.11,74.82],"labelExpr":"datum.value > 100 ? '6.4' : (datum.value > 80 ? '6.3' : '6.2')","labelPadding":21,"title":"Redshift z","titlePadding":1}}
   }}
 ],
 "resolve":{"axis":{"x":"independent"}}
},
{
 "width":170,"height":169,
 "data":{"values":[{"v":0}]},
 "mark":{"type":"point","opacity":0},
 "encoding":{},
 "view":{"stroke":null}
},
{
 "width":550,"height":550,
 "data":{"name":"cells"},
 "layer":[
  {"mark":{"type":"tick","orient":"vertical","thickness":1.7,"size":4.5,"opacity":1},
   "encoding":{
    "x":{"field":"a","type":"quantitative","scale":{"domain":[73.47,118.05],"reverse":true,"nice":false,"zero":false},"axis":{"values":[110,100,90,80],"labelPadding":19,"title":"Age/Myr","titlePadding":2}},
    "y":{"field":"z","type":"quantitative","scale":{"domain":[-1.867,0.675],"nice":false,"zero":false},"axis":{"values":[0.5,0,-0.5,-1,-1.5],"format":".1f","labelPadding":20,"title":"log(Z⋆/Z⊙)","titleFont":"DejaVu Sans","titlePadding":15}},
    "color":{"field":"m","type":"quantitative","scale":{"scheme":"plasma","reverse":true,"domain":[-5.0002,-2.1]},
     "legend":{"orient":"none","legendX":85,"legendY":839,"direction":"horizontal","gradientLength":449,"gradientThickness":17,"gradientStrokeColor":"#1a1a1a","gradientStrokeWidth":1,"values":[-5,-4.5,-4,-3.5,-3,-2.5],"format":".1f","labelOverlap":false,"labelAlign":"center","labelFont":"DejaVu Serif","labelFontSize":22,"labelColor":"#1a1a1a","labelOffset":9,"title":"log (Stellar Mass Fraction)","titleLimit":700,"titleOrient":"bottom","titleAnchor":"middle","titleFont":"DejaVu Serif","titleFontSize":27,"titleFontWeight":"normal","titleColor":"#1a1a1a","titlePadding":15}}
   }},
  {"mark":{"type":"point","opacity":0},
   "encoding":{
    "x":{"field":"a","type":"quantitative","axis":{"orient":"top","values":[110,100,90,80],"labels":false,"title":null}},
    "y":{"field":"z","type":"quantitative","axis":{"orient":"right","values":[0.5,0,-0.5,-1,-1.5],"labels":false,"title":null}}
   }}
 ],
 "resolve":{"axis":{"x":"independent","y":"independent"}}
},
{
 "width":170,"height":550,
 "layer":[
  {"data":{"name":"hist"},"mark":{"type":"rect","color":"#ffe266","stroke":"#ffe266","strokeWidth":0.6},
   "encoding":{
    "x":{"field":"f","type":"quantitative","scale":{"domain":[0,0.1344],"nice":false,"zero":true},"axis":{"values":[0,0.1],"format":".0%","labelPadding":19,"title":"Stellar Mass Fraction","titlePadding":4}},
    "x2":{"datum":0},
    "y":{"field":"lo","type":"quantitative","scale":{"domain":[-1.867,0.675],"nice":false,"zero":false},"axis":{"values":[0.5,0,-0.5,-1,-1.5],"labels":false,"title":null}},
    "y2":{"field":"hi"}
   }},
  {"data":{"name":"seam"},"mark":{"type":"rule","color":"#ffd21a","strokeWidth":1.6},
   "encoding":{
    "x":{"field":"f0","type":"quantitative"},
    "x2":{"field":"f1"},
    "y":{"field":"z","type":"quantitative"}
   }},
  {"data":{"name":"edge"},"mark":{"type":"line","color":"#111111","strokeWidth":1.4,"interpolate":"step-before"},
   "encoding":{
    "x":{"field":"f","type":"quantitative"},
    "y":{"field":"e","type":"quantitative"},
    "order":{"field":"k","type":"quantitative"}
   }}
 ]
}
]
}
